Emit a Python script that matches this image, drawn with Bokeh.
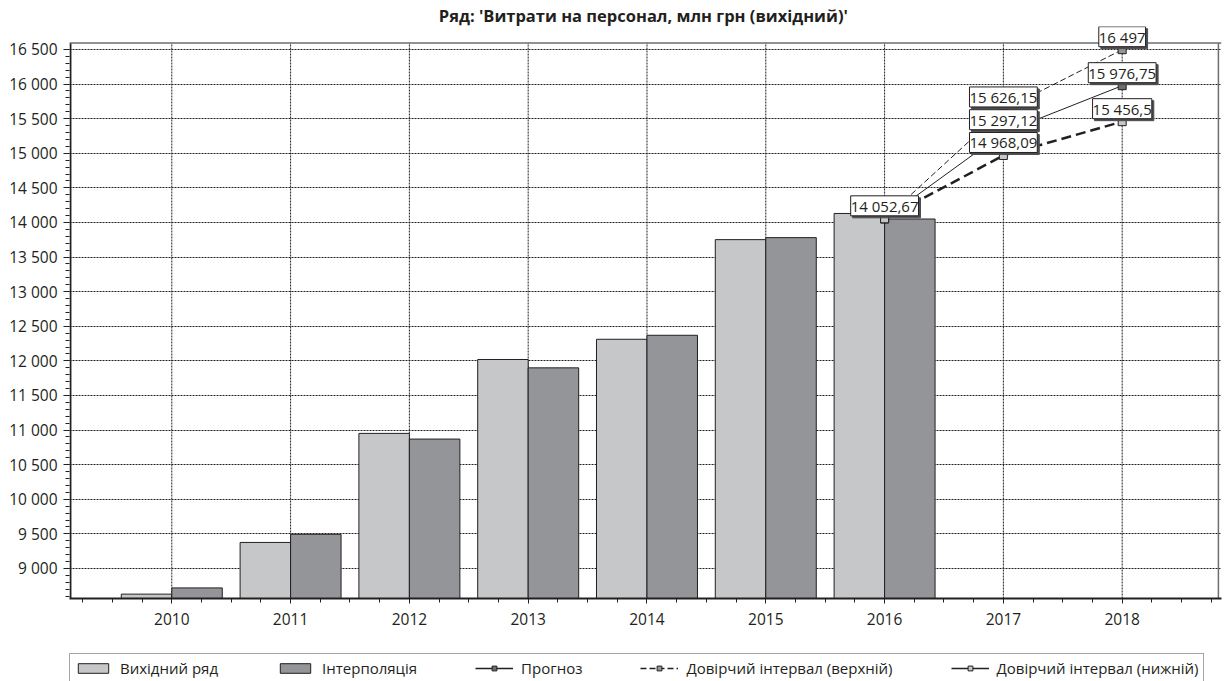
from bokeh.plotting import figure
from bokeh.models import (ColumnDataSource, FixedTicker, LabelSet, Legend, LegendItem, Range1d, Span)
from bokeh.layouts import column
from bokeh.transform import dodge
from bokeh.core.properties import value
from bokeh.embed import file_html
from bokeh.resources import INLINE

# ---- data ----
years = [2010, 2011, 2012, 2013, 2014, 2015, 2016]
original = [8629, 9376, 10952, 12020, 12312, 13752, 14130]
interpolation = [8719, 9494, 10870, 11899, 12370, 13781, 14050]
fc_years = [2016, 2017, 2018]
forecast = [14052.67, 15297.12, 15976.75]
upper = [14052.67, 15626.15, 16497.0]
lower = [14052.67, 14968.09, 15456.5]
x_ticks = [2010, 2011, 2012, 2013, 2014, 2015, 2016, 2017, 2018]
y_ticks = [9000, 9500, 10000, 10500, 11000, 11500, 12000, 12500, 13000, 13500,
           14000, 14500, 15000, 15500, 16000, 16500]
title_text = "Ряд:  'Витрати на персонал, млн грн (вихідний)'"
legend_labels = ["Вихідний ряд", "Інтерполяція", "Прогноз",
                 "Довірчий інтервал (верхній)", "Довірчий інтервал (нижній)"]

# plot box limits (value space) and the visible window with headroom for the top label
X_LO, X_HI = 2009.147, 2018.81
Y_LO, Y_BOX_TOP, Y_VIEW_TOP = 8566, 16595, 16832

FONT = "Open Sans"
INK = "#231f20"
FRAME = "#6d6e71"
LIGHT = "#c6c7c9"
MID = "#939598"
DARK = "#6d6e71"


def fmt(v):
    s = f"{v:,.2f}".rstrip("0").rstrip(".")
    return s.replace(",", " ").replace(".", ",")


p = figure(frame_width=1152, frame_height=572, output_backend="svg", toolbar_location=None,
           x_range=Range1d(2009.139, 2018.836), y_range=Range1d(Y_LO, Y_VIEW_TOP),
           min_border_left=67, min_border_right=10, min_border_top=26, min_border_bottom=55)

p.title.text = title_text
p.title.align = "center"
p.title.text_font = FONT
p.title.text_font_size = "16.5px"
p.title.text_font_style = "bold"
p.title.text_color = INK
p.title.standoff = 0

p.outline_line_color = None

# axes
p.xaxis.ticker = FixedTicker(ticks=x_ticks,
                             minor_ticks=[2009.25 + 0.25 * i for i in range(39)])
p.yaxis.ticker = FixedTicker(ticks=y_ticks,
                             minor_ticks=list(range(8600, 16600, 100)))
p.yaxis.major_label_overrides = {t: fmt(t) for t in y_ticks}
p.xaxis.major_label_overrides = {t: str(t) for t in x_ticks}
for ax in (p.xaxis[0], p.yaxis[0]):
    ax.axis_line_color = INK
    ax.axis_line_width = 2
    ax.major_tick_line_color = INK
    ax.minor_tick_line_color = INK
    ax.major_tick_in = 0
    ax.minor_tick_in = 0
    ax.major_label_text_font = FONT
    ax.major_label_text_font_size = "15.5px"
    ax.major_label_text_color = INK
p.yaxis.axis_line_color = None
p.yaxis.major_tick_out = 6
p.yaxis.minor_tick_out = 4
p.yaxis.major_label_standoff = 6
p.xaxis.major_tick_out = 5
p.xaxis.minor_tick_out = 4
p.xaxis.major_label_standoff = 9

p.xgrid.visible = False
p.ygrid.ticker = FixedTicker(ticks=y_ticks)
p.ygrid.grid_line_color = INK
p.ygrid.grid_line_dash = "2 1"
p.ygrid.grid_line_width = 1

# vertical grid lines, limited to the plot box
p.segment(x0=x_ticks, y0=[Y_LO] * len(x_ticks), x1=x_ticks, y1=[Y_BOX_TOP] * len(x_ticks),
          line_color=INK, line_dash="2 1", line_width=1, level="underlay")

# plot box: left axis line, top and right border
p.segment(x0=[X_LO], y0=[Y_LO], x1=[X_LO], y1=[Y_BOX_TOP], line_color=INK, line_width=2)
p.add_layout(Span(location=Y_BOX_TOP, dimension="width", line_color=FRAME, line_width=1.5))
p.segment(x0=[X_HI], y0=[Y_LO], x1=[X_HI], y1=[Y_BOX_TOP], line_color=FRAME, line_width=1.5)

# bars
bars_src = ColumnDataSource(dict(x=years, orig=original, interp=interpolation))
bw = 0.425
b1 = p.vbar(x=dodge("x", -bw / 2), top="orig", bottom=0, width=bw, source=bars_src,
            fill_color=LIGHT, line_color=INK, line_width=1)
b2 = p.vbar(x=dodge("x", bw / 2), top="interp", bottom=0, width=bw, source=bars_src,
            fill_color=MID, line_color=INK, line_width=1)

# lines
src = ColumnDataSource(dict(x=fc_years, fc=forecast, up=upper, lo=lower))
p.line("x", "up", source=src, line_color=INK, line_width=1, line_dash="6 3")
p.line("x", "fc", source=src, line_color=INK, line_width=1)
p.line("x", "lo", source=src, line_color=INK, line_width=2.5, line_dash="10 5")
p.scatter("x", "up", source=src, marker="square", size=8, fill_color=MID, line_color=INK)
p.scatter("x", "fc", source=src, marker="square", size=8, fill_color=DARK, line_color=INK)
p.scatter("x", "lo", source=src, marker="square", size=8, fill_color=LIGHT, line_color=INK)

# value labels
lab_x = fc_years + fc_years[1:] + fc_years[1:]
lab_y = forecast + upper[1:] + lower[1:]
lab_src = ColumnDataSource(dict(x=lab_x, y=lab_y, t=[fmt(v) for v in lab_y]))
shadow = LabelSet(x="x", y="y", text="t", source=lab_src, text_align="center",
                  text_baseline="middle", x_offset=2, y_offset=11,
                  text_font=value(FONT), text_font_size="15px", text_alpha=0,
                  background_fill_color="#4d4d4f", border_line_color="#4d4d4f")
labels = LabelSet(x="x", y="y", text="t", source=lab_src, text_align="center",
                  text_baseline="middle", x_offset=0, y_offset=13,
                  text_font=value(FONT), text_font_size="15px", text_color=INK,
                  background_fill_color="white", border_line_color=INK, border_line_width=1)
p.add_layout(shadow)
p.add_layout(labels)

# ---- legend strip below the chart ----
lf = figure(width=1229, height=28, output_backend="svg", toolbar_location=None,
            x_range=Range1d(0, 1), y_range=Range1d(0, 1),
            x_axis_type=None, y_axis_type=None,
            min_border_left=69, min_border_right=0, min_border_top=0, min_border_bottom=0)
lf.grid.visible = False
lf.outline_line_color = None
nan = float("nan")
g_orig = lf.vbar(x=[0], top=[nan], width=0.1, fill_color=LIGHT, line_color=INK, line_width=1)
g_int = lf.vbar(x=[0], top=[nan], width=0.1, fill_color=MID, line_color=INK, line_width=1)
g_fc_l = lf.line(x=[0], y=[nan], line_color=INK, line_width=1.5)
g_fc_m = lf.scatter(x=[0], y=[nan], marker="square", size=8, fill_color=DARK, line_color=INK)
g_up_l = lf.line(x=[0], y=[nan], line_color=INK, line_width=1.5, line_dash="6 3")
g_up_m = lf.scatter(x=[0], y=[nan], marker="square", size=8, fill_color=MID, line_color=INK)
g_lo_l = lf.line(x=[0], y=[nan], line_color=INK, line_width=1.5)
g_lo_m = lf.scatter(x=[0], y=[nan], marker="square", size=8, fill_color=LIGHT, line_color=INK)

legend = Legend(items=[
    LegendItem(label=legend_labels[0], renderers=[g_orig]),
    LegendItem(label=legend_labels[1], renderers=[g_int]),
    LegendItem(label=legend_labels[2], renderers=[g_fc_l, g_fc_m]),
    LegendItem(label=legend_labels[3], renderers=[g_up_l, g_up_m]),
    LegendItem(label=legend_labels[4], renderers=[g_lo_l, g_lo_m]),
], orientation="horizontal", location="top_left", spacing=58,
    glyph_width=38, glyph_height=12, label_standoff=8, label_height=16,
    padding=4, margin=0,
    label_text_font=FONT, label_text_font_size="15px", label_text_color=INK,
    border_line_color="#4d4d4f", border_line_width=1.5,
    background_fill_color="white", background_fill_alpha=1)
lf.add_layout(legend)

layout = column(p, lf)
open("out.html", "w").write(file_html(layout, INLINE))
